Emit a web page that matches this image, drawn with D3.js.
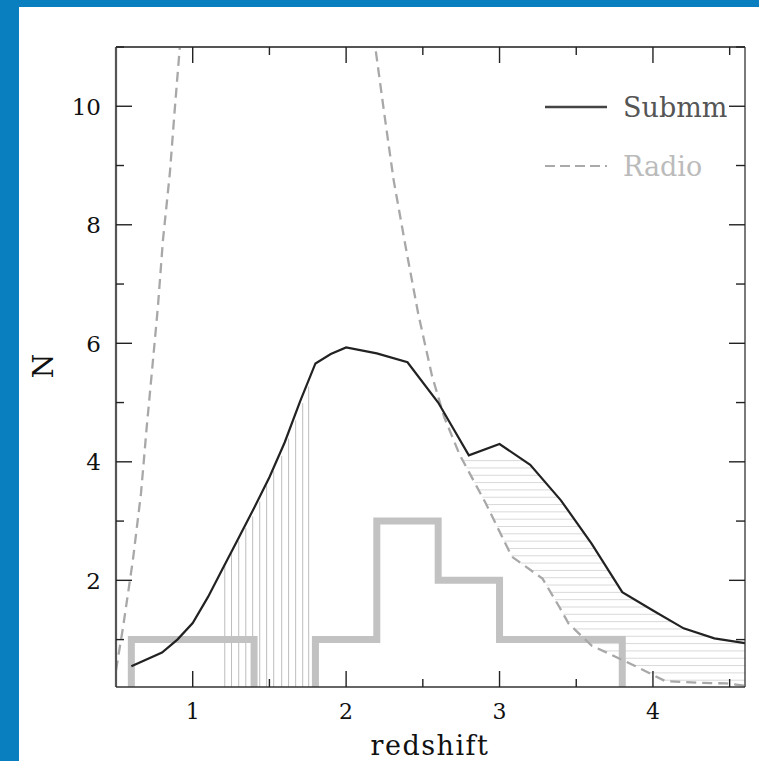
<!DOCTYPE html>
<html><head><meta charset="utf-8">
<script src="https://cdn.jsdelivr.net/npm/d3@7/dist/d3.min.js"></script>
<style>
html,body{margin:0;padding:0;background:#fff;}
svg{display:block;}
text{font-family:"DejaVu Serif",serif;}
</style></head>
<body>
<svg id="chart" width="759" height="761"></svg>
<script>
// ---- data ----
const submmX = [0.6,0.8,0.9,1.0,1.1,1.2,1.3,1.4,1.5,1.6,1.7,1.8,1.9,2.0,2.2,2.4,2.6,2.8,3.0,3.2,3.4,3.6,3.8,4.0,4.2,4.4,4.6];
const submmN = [0.55,0.78,1.0,1.28,1.72,2.22,2.72,3.22,3.74,4.33,5.02,5.66,5.82,5.93,5.83,5.68,5.0,4.11,4.3,3.95,3.35,2.62,1.8,1.49,1.19,1.02,0.94];

const radioLeftX = [0.5,0.546,0.61,0.663,0.70,0.737,0.773,0.806,0.851,0.884,0.916,0.95];
const radioLeftN = [0.48,1.21,2.34,3.47,4.58,5.6,6.61,7.74,8.87,9.98,11.0,12.0];
const radioRightX = [2.15,2.19,2.25,2.31,2.39,2.47,2.56,2.64,2.74,2.91,3.08,3.28,3.39,3.45,3.6,3.88,4.08,4.3,4.48,4.6];
const radioRightN = [12.0,11.0,9.85,8.75,7.6,6.5,5.45,4.75,4.12,3.3,2.4,2.03,1.55,1.27,0.9,0.56,0.3,0.27,0.26,0.22];

const histEdges = [0.6,1.0,1.4,1.8,2.2,2.6,3.0,3.4,3.8];
const histCounts = [1,1,0,1,3,2,1,1];

const vHatchX   = [1.209,1.253,1.30,1.346,1.391,1.437,1.482,1.528,1.58,1.625,1.671,1.717,1.756];
const vHatchTop = [2.25,2.48,2.66,2.88,3.08,3.33,3.60,3.85,4.10,4.39,4.70,4.99,5.27];

const xMajorTicks = [1,2,3,4];
const xMinorTicks = [1.5,2.5,3.5,4.5];
const yMajorTicks = [2,4,6,8,10];
const yMinorTicks = [1,3,5,7,9,11];

const legendLabels = ["Submm","Radio"];

// ---- layout ----
const svg = d3.select("#chart");
const L = 116, R = 745, T = 47, B = 687;
const x = d3.scaleLinear().domain([0.5,4.6]).range([L,R]);
const y = d3.scaleLinear().domain([0.2,11]).range([B,T]);

// blue frame
svg.append("rect").attr("x",0).attr("y",0).attr("width",759).attr("height",7).attr("fill","#0a7fc0");
svg.append("rect").attr("x",0).attr("y",0).attr("width",19).attr("height",761).attr("fill","#0a7fc0");

svg.append("defs").append("clipPath").attr("id","clip")
  .append("rect").attr("x",L).attr("y",T).attr("width",R-L).attr("height",B-T);
const g = svg.append("g").attr("clip-path","url(#clip)");

// horizontal hatch between radio and submm
function crossX(xs, ns, level, startIdx){
  for(let i=startIdx;i<xs.length-1;i++){
    const a=ns[i], b=ns[i+1];
    if((a>=level && b<=level) || (a<=level && b>=level)){
      if(a===b) return xs[i];
      return xs[i] + (level-a)/(b-a)*(xs[i+1]-xs[i]);
    }
  }
  return null;
}
const hLevels = d3.range(0,31).map(i => 4.02 - i*0.1235);
const s3 = submmX.indexOf(3.0);
hLevels.forEach(lv => {
  const xl = crossX(radioRightX, radioRightN, lv, 0);
  if(xl===null) return;
  let xr = crossX(submmX, submmN, lv, s3);
  if(xr===null) xr = 4.6;
  g.append("line").attr("x1",x(xl)).attr("x2",x(xr)).attr("y1",y(lv)).attr("y2",y(lv))
    .attr("stroke","#d9d9d9").attr("stroke-width",1);
});

// vertical hatch
g.selectAll("line.vh").data(vHatchX).enter().append("line").attr("class","vh")
  .attr("x1",d=>x(d)).attr("x2",d=>x(d))
  .attr("y1",y(0.2)).attr("y2",(d,i)=>y(vHatchTop[i]))
  .attr("stroke","#bdbdbd").attr("stroke-width",1);

// histogram
const histPts = [[histEdges[0],0]];
histCounts.forEach((c,i)=>{ histPts.push([histEdges[i],c]); histPts.push([histEdges[i+1],c]); });
histPts.push([histEdges[histEdges.length-1],0]);
g.append("path").attr("d", d3.line().x(d=>x(d[0])).y(d=>y(d[1]))(histPts))
  .attr("fill","none").attr("stroke","#c2c2c2").attr("stroke-width",7)
  .attr("stroke-linejoin","miter");

// radio dashed
const line = d3.line().x(d=>x(d[0])).y(d=>y(d[1]));
[[radioLeftX,radioLeftN],[radioRightX,radioRightN]].forEach(([xs,ns])=>{
  g.append("path").attr("d", line(xs.map((v,i)=>[v,ns[i]])))
    .attr("fill","none").attr("stroke","#a8a8a8").attr("stroke-width",2.3)
    .attr("stroke-dasharray","10,6");
});

// submm solid
g.append("path").attr("d", line(submmX.map((v,i)=>[v,submmN[i]])))
  .attr("fill","none").attr("stroke","#222").attr("stroke-width",2.2);

// frame
const ax = svg.append("g");
ax.append("line").attr("x1",L).attr("x2",L).attr("y1",T).attr("y2",B).attr("stroke","#555").attr("stroke-width",2.2);
ax.append("line").attr("x1",R).attr("x2",R).attr("y1",T).attr("y2",B).attr("stroke","#333").attr("stroke-width",1.3);
ax.append("line").attr("x1",L).attr("x2",R).attr("y1",T).attr("y2",T).attr("stroke","#555").attr("stroke-width",2);
ax.append("line").attr("x1",L).attr("x2",R).attr("y1",B).attr("y2",B).attr("stroke","#333").attr("stroke-width",1.6);

// ticks
const tickStyle = s => s.attr("stroke","#222").attr("stroke-width",1.4);
xMajorTicks.forEach(v=>{
  tickStyle(ax.append("line").attr("x1",x(v)).attr("x2",x(v)).attr("y1",B).attr("y2",B-16));
  tickStyle(ax.append("line").attr("x1",x(v)).attr("x2",x(v)).attr("y1",T).attr("y2",T+16));
});
xMinorTicks.forEach(v=>{
  tickStyle(ax.append("line").attr("x1",x(v)).attr("x2",x(v)).attr("y1",B).attr("y2",B-8));
  tickStyle(ax.append("line").attr("x1",x(v)).attr("x2",x(v)).attr("y1",T).attr("y2",T+8));
});
yMajorTicks.forEach(v=>{
  tickStyle(ax.append("line").attr("x1",L).attr("x2",L+16).attr("y1",y(v)).attr("y2",y(v)));
  tickStyle(ax.append("line").attr("x1",R).attr("x2",R-16).attr("y1",y(v)).attr("y2",y(v)));
});
yMinorTicks.forEach(v=>{
  tickStyle(ax.append("line").attr("x1",L).attr("x2",L+8).attr("y1",y(v)).attr("y2",y(v)));
  tickStyle(ax.append("line").attr("x1",R).attr("x2",R-9).attr("y1",y(v)).attr("y2",y(v)));
});

// tick labels
xMajorTicks.forEach(v=>{
  ax.append("text").attr("x",x(v)).attr("y",719).attr("text-anchor","middle")
    .attr("font-size",22).attr("fill","#111").text(v);
});
yMajorTicks.forEach(v=>{
  ax.append("text").attr("x",101).attr("y",y(v)+8.5).attr("text-anchor","end")
    .attr("font-size",23).attr("fill","#111").text(v);
});

// axis titles
svg.append("text").attr("x",430).attr("y",755).attr("text-anchor","middle")
  .attr("font-size",27).attr("letter-spacing","1.5px").attr("fill","#111").text("redshift");
svg.append("text").attr("transform","translate(53,366) rotate(-90)").attr("text-anchor","middle")
  .attr("font-size",28).attr("fill","#111").text("N");

// legend
const lg = svg.append("g");
lg.append("line").attr("x1",545).attr("x2",607).attr("y1",107).attr("y2",107)
  .attr("stroke","#444").attr("stroke-width",2.5);
lg.append("text").attr("x",623).attr("y",117).attr("font-size",27).attr("fill","#555").text(legendLabels[0]);
lg.append("line").attr("x1",545).attr("x2",607).attr("y1",166).attr("y2",166)
  .attr("stroke","#aaa").attr("stroke-width",2).attr("stroke-dasharray","10,5");
lg.append("text").attr("x",623).attr("y",176).attr("font-size",27).attr("fill","#bbb").text(legendLabels[1]);
</script>
</body></html>
